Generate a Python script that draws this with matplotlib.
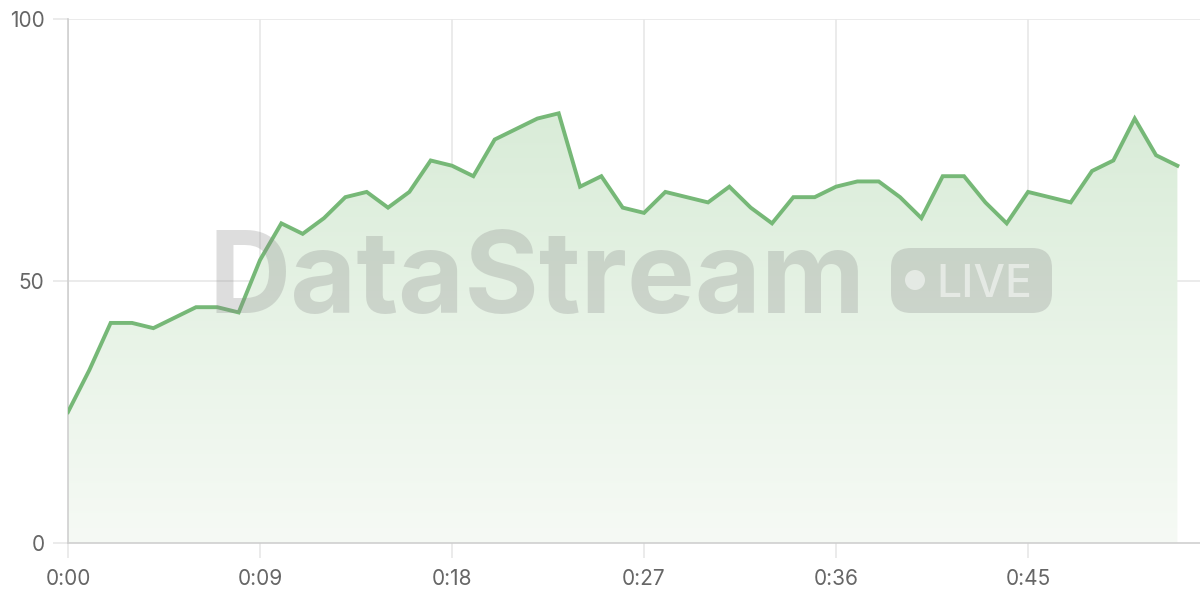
import numpy as np
import matplotlib.pyplot as plt
from matplotlib.patches import FancyBboxPatch, Ellipse
from matplotlib.colors import LinearSegmentedColormap
from matplotlib.transforms import IdentityTransform

# 每秒一个采样点
seconds = list(range(53))
values = [25, 33, 42, 42, 41, 43, 45, 45, 44, 54,
          61, 59, 62, 66, 67, 64, 67, 73, 72, 70,
          77, 79, 81, 82, 68, 70, 64, 63, 67, 66,
          65, 68, 64, 61, 66, 66, 68, 69, 69, 66,
          62, 70, 70, 65, 61, 67, 66, 65, 71, 73,
          81, 74, 72]
tick_secs = [0, 9, 18, 27, 36, 45]
tick_labels = ['0:00', '0:09', '0:18', '0:27', '0:36', '0:45']
y_ticks = [0, 50, 100]

line_color = '#76b877'
grid_color = '#e8e8e8'
text_color = '#666666'

plt.rcParams['font.family'] = ['Inter', 'DejaVu Sans']

fig = plt.figure(figsize=(12, 6), dpi=100)
ax = fig.add_axes([68 / 1200, 57 / 600, 1132 / 1200, 524 / 600])
ax.set_xlim(0, 53.06)
ax.set_ylim(0, 100)

# 渐变填充
x = np.array(seconds, dtype=float)
y = np.array(values, dtype=float)
poly = ax.fill_between(x, y, 0, color='none', lw=0)
cmap = LinearSegmentedColormap.from_list('g', ['#f6faf5', '#d9ecd8'])
grad = np.linspace(0, 1, 256).reshape(-1, 1)
img = ax.imshow(grad, extent=[0, 52, 0, 82], origin='lower', aspect='auto',
                cmap=cmap, zorder=1)
img.set_clip_path(poly.get_paths()[0], transform=ax.transData)

ax.plot(x, y, color=line_color, lw=2.8, zorder=4, solid_joinstyle='miter')

# 网格
for s in tick_secs:
    ax.axvline(s, color=grid_color, lw=1.2, zorder=0.5)
for v in y_ticks[1:]:
    ax.axhline(v, color=grid_color, lw=1.2, zorder=0.5)

for sp in ['top', 'right']:
    ax.spines[sp].set_visible(False)
for sp in ['left', 'bottom']:
    ax.spines[sp].set_color('#cfcfcf')
    ax.spines[sp].set_linewidth(1.2)
    ax.spines[sp].set_zorder(3)

ax.set_xticks(tick_secs)
ax.set_xticklabels(tick_labels)
ax.set_yticks(y_ticks)
ax.tick_params(axis='both', colors=grid_color, length=11, width=1.2,
               labelcolor=text_color, labelsize=15)
ax.tick_params(axis='x', pad=8)
ax.tick_params(axis='y', pad=6)

# 水印（像素坐标，原点在左下）
px = IdentityTransform()
fig.text(208, 600 - 313, 'DataStream', fontsize=82, fontweight='bold',
         color='#888888', alpha=0.28, ha='left', va='baseline', zorder=3,
         transform=px)
pill = FancyBboxPatch((891, 600 - 313), 161, 65,
                      boxstyle='round,pad=0,rounding_size=20',
                      transform=px, facecolor='#888888',
                      alpha=0.28, lw=0, zorder=3)
fig.patches.append(pill)
fig.patches.append(Ellipse((915, 600 - 280), 20, 20, transform=px,
                           facecolor='white', alpha=0.5, lw=0, zorder=3))
fig.text(936, 600 - 297, 'LIVE', fontsize=32, fontweight='medium',
         color='white', alpha=0.5, ha='left', va='baseline', zorder=3,
         transform=px)

fig.savefig('out.png', dpi=100)
